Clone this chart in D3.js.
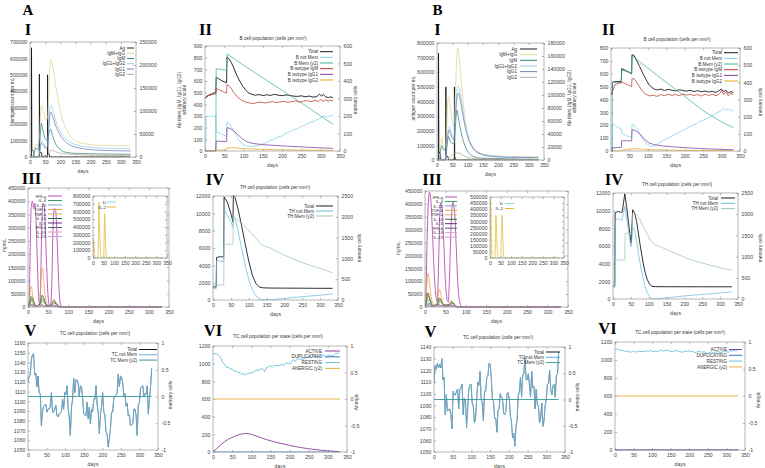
<!DOCTYPE html>
<html><head><meta charset="utf-8">
<script src="https://cdn.jsdelivr.net/npm/d3@7"></script>
<style>body{margin:0;background:#fff}svg{display:block}</style>
</head><body>
<script>
// ================= DATA =================
const DAY_TICKS = [0,50,100,150,200,250,300,350];
const T_700k = [0,100000,200000,300000,400000,500000,600000,700000];
const T_800k = [0,100000,200000,300000,400000,500000,600000,700000,800000];
const T_250k = [0,50000,100000,150000,200000,250000];
const T_180k = [0,20000,40000,60000,80000,100000,120000,140000,160000,180000];
const T_900 = [0,100,200,300,400,500,600,700,800,900];
const T_800 = [0,100,200,300,400,500,600,700,800];
const T_600 = [0,100,200,300,400,500,600];
const T_450k = [0,50000,100000,150000,200000,250000,300000,350000,400000,450000];
const T_500k = [0,50000,100000,150000,200000,250000,300000,350000,400000,450000,500000];
const T_12k = [0,2000,4000,6000,8000,10000,12000];
const T_2500 = [0,500,1000,1500,2000,2500];
const T_A5 = [1050,1060,1070,1080,1090,1100,1110,1120,1130,1140,1150,1160];
const T_B5 = [1050,1060,1070,1080,1090,1100,1110,1120,1130,1140];
const T_PM1 = [-1,-0.5,0,0.5,1];
const T_1200 = [0,200,400,600,800,1000,1200];

// ---- Panel I (antigen & antibodies) ----
const I_labels = ["Ag","IgM+IgG","IgM","IgG1+IgG2","IgG1","IgG2"];
const A1_Ag = [[0,0],[4.8,0],[5,665000],[6,45000],[12,35000],[13,0],[30.8,0],[31,505000],[32,30000],[38,25000],[39,0],[57.8,0],[58,500000],[59,25000],[64,15000],[65,0],[332,0]];
const A1_IgMIgG = [[0,0],[8,0],[12,8000],[16,20000],[20,28000],[25,25000],[31,40000],[35,95000],[38,113000],[42,105000],[48,90000],[54,80000],[58,85000],[62,140000],[66,200000],[69,212000],[73,205000],[80,175000],[90,135000],[100,100000],[115,68000],[130,48000],[150,36000],[180,29000],[220,26000],[270,25000],[332,24000]];
const A1_IgM = [[0,0],[8,0],[14,10000],[20,20000],[26,15000],[32,35000],[38,73000],[42,60000],[50,40000],[58,35000],[64,55000],[68,60000],[75,45000],[85,28000],[100,16000],[120,10000],[150,8000],[200,7000],[332,6000]];
const A1_IgG12 = [[0,0],[25,0],[30,5000],[34,25000],[38,35000],[44,30000],[52,22000],[58,25000],[62,70000],[66,108000],[69,113000],[74,105000],[82,85000],[95,62000],[110,45000],[130,33000],[160,25000],[200,21000],[260,19000],[332,18000]];
const A1_IgG1 = [[0,0],[25,0],[30,4000],[34,21000],[38,30000],[44,26000],[52,19000],[58,21000],[62,60000],[66,93000],[69,98000],[74,90000],[82,73000],[95,53000],[110,38000],[130,27000],[160,20000],[200,16000],[260,14000],[332,13000]];
const A1_IgG2 = [[0,0],[30,0],[38,4000],[58,3000],[69,15000],[90,10000],[130,6000],[200,4000],[332,3000]];

const B1_Ag = [[0,0],[4.8,0],[5,730000],[6,60000],[11,40000],[13,0],[28.8,0],[29,500000],[30,30000],[36,20000],[38,0],[56.8,0],[57,500000],[58,20000],[62,0],[332,0]];
const B1_IgMIgG = [[0,0],[7,0],[11,10000],[15,34000],[20,25000],[26,18000],[31,40000],[35,90000],[38,97000],[42,85000],[50,60000],[56,55000],[60,100000],[65,160000],[68,172000],[72,160000],[80,115000],[90,70000],[100,40000],[115,20000],[130,12000],[160,8000],[200,6000],[332,5000]];
const B1_IgM = [[0,0],[7,0],[12,15000],[16,22000],[22,15000],[30,20000],[35,30000],[38,36000],[44,28000],[56,25000],[60,50000],[65,77000],[70,65000],[80,40000],[95,18000],[110,8000],[140,3000],[332,1000]];
const B1_IgG12 = [[0,0],[25,0],[32,20000],[37,48000],[40,51000],[46,42000],[56,35000],[60,70000],[66,110000],[70,114000],[75,105000],[85,75000],[100,40000],[115,22000],[135,12000],[170,7000],[230,5000],[332,4000]];
const B1_IgG1 = [[0,0],[25,0],[32,18000],[37,43000],[40,46000],[46,38000],[56,31000],[60,63000],[66,99000],[70,103000],[75,95000],[85,68000],[100,36000],[115,20000],[135,11000],[170,6000],[230,4000],[332,3500]];
const B1_IgG2 = [[0,0],[35,0],[40,4000],[70,11000],[90,6000],[130,2000],[332,500]];

// ---- Panel II (B cells) ----
const II_labels = ["Total","B not Mem","B Mem (y2)","B isotype IgM","B isotype IgG1","B isotype IgG2"];
const A2_Total = [[0,450],[5,470],[10,480],[15,485],[20,495],[28,500],[29,630],[35,620],[45,600],[56,585],[57,805],[62,790],[68,760],[75,710],[82,650],[90,600],[98,555],[106,520],[114,495],[122,485],[130,478],[140,484],[150,475],[160,482],[170,476],[180,486],[190,478],[200,474],[210,481],[220,476],[230,470],[240,468],[250,473],[260,465],[270,471],[280,462],[290,467],[297,488],[302,470],[307,485],[312,465],[320,458],[325,464],[332,458]];
const A2_NotMem = [[0,0],[2,0],[3,295],[28,300],[29,165],[40,150],[56,125],[57,250],[65,230],[75,170],[85,110],[95,65],[105,45],[120,38],[135,45],[150,60],[160,75],[170,92],[180,100],[190,122],[200,130],[210,152],[220,165],[230,182],[240,190],[250,212],[260,222],[270,242],[280,250],[290,268],[300,282],[305,296],[310,302],[318,288],[325,306],[332,300]];
const A2_Mem = [[0,0],[28,0],[29,470],[56,462],[57,555],[100,490],[150,418],[200,346],[250,275],[300,200],[332,153]];
const A2_IgM = [[0,450],[5,465],[10,475],[15,480],[20,485],[28,490],[29,535],[40,520],[56,495],[57,570],[65,550],[75,500],[85,460],[95,435],[105,420],[115,412],[125,406],[135,415],[145,420],[155,411],[165,418],[175,423],[185,414],[195,421],[205,426],[215,417],[225,423],[235,429],[245,419],[255,427],[265,431],[275,423],[285,433],[295,425],[300,442],[306,426],[312,438],[320,428],[326,434],[332,430]];
const A2_IgG1 = [[0,0],[28,0],[29,85],[56,80],[57,200],[65,195],[75,170],[85,140],[95,110],[105,85],[115,72],[130,62],[150,55],[180,48],[210,42],[240,37],[270,32],[300,27],[332,22]];
const A2_IgG2 = [[0,0],[28,0],[29,8],[56,8],[57,25],[70,28],[100,20],[150,14],[200,10],[260,7],[332,5]];

const B2_Total = [[0,440],[3,445],[4,535],[15,540],[28,540],[29,640],[40,625],[56,600],[57,748],[63,740],[70,700],[78,655],[86,605],[94,560],[102,520],[110,495],[118,480],[126,475],[135,481],[145,470],[155,479],[165,472],[175,467],[185,475],[195,470],[205,465],[215,471],[225,462],[235,469],[245,460],[255,466],[265,458],[275,463],[285,455],[295,472],[300,481],[305,461],[312,471],[318,450],[325,461],[332,455]];
const B2_NotMem = [[0,0],[3,0],[4,210],[15,190],[28,170],[29,140],[40,120],[56,105],[57,210],[65,195],[75,150],[85,100],[95,60],[105,40],[112,35],[120,45],[135,70],[150,95],[160,108],[170,125],[180,138],[190,155],[200,166],[210,185],[220,196],[230,210],[240,228],[250,240],[265,260],[280,285],[290,300],[298,312],[305,332],[312,318],[318,327],[325,314],[332,320]];
const B2_Mem = [[0,0],[3,0],[4,400],[28,398],[29,470],[56,455],[57,555],[100,483],[150,400],[200,318],[250,235],[300,170],[332,135]];
const B2_IgM = [[0,440],[3,442],[4,460],[10,515],[20,525],[28,530],[29,535],[45,515],[56,500],[57,565],[65,555],[75,510],[85,465],[95,440],[105,428],[115,433],[125,424],[135,439],[145,429],[155,441],[165,431],[175,439],[185,429],[195,443],[205,434],[215,441],[225,431],[235,439],[245,427],[255,441],[265,431],[275,441],[285,429],[295,446],[300,470],[305,440],[312,456],[318,430],[325,446],[332,440]];
const B2_IgG1 = [[0,0],[3,0],[4,25],[28,28],[29,80],[56,78],[57,165],[65,160],[75,140],[85,110],[95,80],[105,60],[120,48],[140,40],[170,32],[200,26],[240,20],[280,15],[332,10]];
const B2_IgG2 = [[0,0],[28,0],[29,5],[57,18],[80,15],[120,9],[200,5],[332,3]];

// ---- Panel III (cytokines) ----
const III_labels = ["IFN-g","IL-4","IL-12","TGF-b","TNF-a","IL-10","IL-6","IFN-b","IL-18","IL-23"];
const A3_IFNg = [[0,0],[3,20000],[5,180000],[8,380000],[11,400000],[14,372000],[17,392000],[20,330000],[23,180000],[26,50000],[29,8000],[31,60000],[34,300000],[37,392000],[40,385000],[43,300000],[46,170000],[49,60000],[52,12000],[56,5000],[59,90000],[62,290000],[65,373000],[68,370000],[71,310000],[74,180000],[77,70000],[80,15000],[85,0],[332,0]];
const A3_IL4 = [[0,0],[5,10000],[9,30000],[13,20000],[20,3000],[32,15000],[37,30000],[42,15000],[50,2000],[61,8000],[66,15000],[72,5000],[82,0],[332,0]];
const A3_IL12 = [[0,0],[5,10000],[9,25000],[14,12000],[20,3000],[33,15000],[38,20000],[44,8000],[55,2000],[62,10000],[67,15000],[74,5000],[85,0],[332,0]];
const A3_TGFb = [[0,0],[3,20000],[6,70000],[8,78000],[11,50000],[15,20000],[20,5000],[28,5000],[31,60000],[34,140000],[36,148000],[39,100000],[43,40000],[48,10000],[56,5000],[60,20000],[64,30000],[68,20000],[75,5000],[85,0],[332,0]];
const A3_TNFa = [[0,0],[4,15000],[8,35000],[12,20000],[18,4000],[32,20000],[36,40000],[41,18000],[50,3000],[62,12000],[67,20000],[74,5000],[84,0],[332,0]];
const A3_IL10 = [[0,0],[4,15000],[8,40000],[12,30000],[17,10000],[25,2000],[31,20000],[35,45000],[39,35000],[45,10000],[55,2000],[60,15000],[65,25000],[70,12000],[80,2000],[90,0],[332,0]];
const A3_IL6 = [[0,0],[6,5000],[10,12000],[16,4000],[35,8000],[40,4000],[65,5000],[75,0],[332,0]];
const A3_IFNb = [[0,0],[8,6000],[14,2000],[36,5000],[44,1000],[66,4000],[76,0],[332,0]];
const A3_IL18 = [[0,0],[7,8000],[13,3000],[36,7000],[44,2000],[66,6000],[76,0],[332,0]];
const A3_IL23 = [[0,0],[9,5000],[15,2000],[38,4000],[46,1000],[68,3000],[78,0],[332,0]];
const INSET_labels = ["D","IL-2"];
const A3_D = [[0,0],[332,0]];
const A3_IL2 = [[0,0],[1,180000],[2,250000],[4,180000],[7,60000],[11,0],[23,0],[26,300000],[28,720000],[30,550000],[33,200000],[37,20000],[40,0],[50,0],[53,300000],[55,570000],[57,450000],[60,150000],[64,10000],[67,0],[332,0]];

const B3_IFNg = [[0,0],[2,30000],[5,250000],[8,400000],[11,445000],[14,420000],[18,300000],[22,150000],[26,50000],[30,20000],[33,150000],[36,350000],[39,403000],[42,380000],[46,250000],[50,100000],[54,30000],[57,20000],[60,120000],[64,320000],[68,407000],[72,380000],[76,250000],[80,100000],[85,20000],[90,0],[332,0]];
const B3_IL4 = [[0,0],[4,20000],[8,45000],[12,30000],[18,5000],[33,15000],[38,30000],[44,10000],[55,2000],[63,10000],[68,18000],[75,4000],[85,0],[332,0]];
const B3_IL12 = [[0,0],[5,12000],[9,28000],[14,12000],[20,3000],[34,12000],[39,20000],[45,6000],[56,2000],[64,8000],[69,14000],[76,4000],[86,0],[332,0]];
const B3_TGFb = [[0,0],[3,50000],[6,120000],[8,130000],[11,90000],[15,40000],[20,10000],[28,5000],[32,40000],[35,70000],[38,55000],[43,20000],[50,5000],[58,10000],[63,25000],[68,15000],[75,3000],[85,0],[332,0]];
const B3_TNFa = [[0,0],[4,25000],[8,55000],[12,35000],[18,6000],[33,20000],[37,35000],[42,15000],[52,2000],[63,12000],[68,20000],[75,4000],[85,0],[332,0]];
const B3_IL10 = [[0,0],[3,20000],[6,55000],[9,45000],[14,20000],[20,5000],[30,10000],[35,35000],[39,25000],[45,8000],[60,10000],[65,20000],[70,10000],[80,0],[332,0]];
const B3_IL6 = [[0,0],[6,6000],[10,14000],[16,4000],[36,8000],[42,3000],[66,6000],[76,0],[332,0]];
const B3_IFNb = [[0,0],[8,7000],[14,2000],[37,5000],[45,1000],[67,4000],[77,0],[332,0]];
const B3_IL18 = [[0,0],[7,9000],[13,3000],[36,6000],[44,2000],[67,5000],[77,0],[332,0]];
const B3_IL23 = [[0,0],[9,5000],[15,2000],[38,4000],[46,1000],[69,3000],[79,0],[332,0]];
const B3_D = [[0,0],[332,0]];
const B3_IL2 = [[0,0],[1,350000],[2,500000],[4,380000],[7,120000],[11,10000],[14,0],[23,0],[26,200000],[28,350000],[30,300000],[33,120000],[37,10000],[40,0],[51,0],[54,200000],[57,350000],[59,280000],[62,100000],[66,5000],[69,0],[332,0]];

// ---- Panel IV (TH cells) ----
const IV_labels = ["Total","TH not Mem","TH Mem (y2)"];
const A4_Total = [[0,1500],[9,1500],[10,4900],[20,5000],[30,4950],[31,11900],[40,11300],[50,10000],[56,9000],[57,12100],[62,11800],[70,10500],[80,8600],[90,6500],[100,4500],[110,2900],[120,1900],[130,1500],[140,1400],[160,1380],[200,1370],[250,1360],[300,1350],[335,1350]];
const A4_NotMem = [[0,1300],[9,1300],[10,4600],[20,4500],[30,4400],[31,10500],[40,9800],[50,9000],[56,8400],[57,9800],[62,9400],[70,8000],[80,6000],[90,4000],[100,2400],[110,1200],[120,500],[130,150],[140,30],[150,10],[170,60],[200,180],[250,380],[300,560],[335,700]];
const A4_Mem = [[0,360],[30,360],[31,1340],[56,1340],[57,2000],[70,1920],[85,1820],[100,1680],[115,1530],[130,1380],[137,1320],[160,1250],[190,1120],[220,1000],[250,900],[280,810],[310,730],[335,650]];
const B4_Total = [[0,1500],[5,1500],[6,9800],[15,9900],[25,9800],[26,9900],[33,11900],[38,10500],[44,8500],[50,6400],[51,6300],[55,10100],[60,9800],[66,8800],[72,7200],[78,5600],[84,4200],[90,3000],[96,2200],[102,1700],[108,1450],[115,1400],[150,1390],[200,1385],[250,1385],[300,1380],[333,1380]];
const B4_NotMem = [[0,1300],[5,1300],[6,9000],[15,9100],[25,8900],[26,9000],[33,10500],[38,9200],[44,7500],[50,6000],[51,5900],[55,8200],[60,7800],[66,6600],[72,5000],[78,3600],[84,2400],[90,1400],[96,700],[102,300],[108,80],[115,10],[130,40],[160,180],[200,350],[250,520],[300,680],[333,800]];
const B4_Mem = [[0,330],[6,330],[7,920],[33,920],[34,1550],[54,1550],[55,2020],[65,2000],[75,1880],[85,1700],[95,1540],[105,1380],[115,1290],[130,1240],[160,1130],[190,1020],[220,920],[250,850],[280,780],[310,720],[333,680]];

// ---- Panel V (TC cells), one value every 3 days ----
const V_labels = ["Total","TC not Mem","TC Mem (y2)"];
const V_STEP = 3;
const A5_Total = [1120,1126,1127,1143,1148,1149,1127,1129,1115,1126,1109,1108,1075,1089,1095,1096,1097,1089,1092,1092,1095,1109,1089,1089,1092,1096,1085,1084,1087,1088,1089,1102,1092,1109,1107,1116,1092,1084,1065,1094,1102,1124,1109,1122,1122,1119,1105,1116,1115,1104,1087,1086,1085,1099,1082,1094,1077,1092,1089,1102,1102,1116,1097,1089,1067,1086,1095,1109,1089,1086,1069,1066,1053,1062,1072,1089,1089,1104,1105,1106,1109,1128,1115,1126,1125,1119,1105,1108,1095,1098,1085,1086,1075,1076,1077,1092,1092,1086,1065,1096,1099,1114,1115,1116,1105,1108,1107,1116,1087,1102,1115,1134];
const A5_Mem = [0,0];
const B5_Total = [1109,1124,1121,1126,1122,1125,1122,1130,1112,1114,1082,1099,1085,1086,1087,1082,1070,1102,1099,1099,1102,1104,1087,1104,1105,1108,1082,1096,1095,1071,1087,1104,1107,1108,1092,1089,1075,1079,1095,1110,1107,1119,1095,1092,1077,1102,1102,1114,1115,1126,1125,1114,1095,1094,1079,1079,1067,1086,1087,1100,1097,1096,1083,1082,1085,1100,1101,1096,1081,1076,1062,1066,1055,1072,1077,1098,1102,1114,1097,1116,1117,1132,1112,1112,1117,1108,1097,1119,1105,1106,1087,1104,1091,1089,1075,1079,1092,1072,1077,1090,1095,1108,1109,1120,1103,1099,1107,1108,1097,1116,1117,1136];
const B5_Mem = [0,0];

// ---- Panel VI (TC states), RESTING every 5 days, ACTIVE every 10 days ----
const VI_labels = ["ACTIVE","DUPLICATING","RESTING","ANERGIC (y2)"];
const A6_Resting = [1120,1112,1108,1094,1066,1014,996,958,961,938,941,914,916,899,901,879,886,872,891,889,896,899,921,924,926,939,941,909,956,964,981,959,981,974,981,979,996,974,1006,1004,1001,1014,1046,1024,1056,1054,1051,1049,1066,1064,1086,1059,1081,1084,1076,1074,1091,1094,1096,1074,1091,1089,1086,1094,1116,1114,1130];
const A6_Active = [0,40,80,115,145,165,185,200,208,210,200,185,170,155,140,128,115,105,95,85,75,66,58,50,43,37,31,26,21,17,13,10,7,5];
const B6_Resting = [1120,1125,1115,1110,1105,1100,1095,1100,1085,1090,1095,1088,1095,1100,1092,1098,1090,1102,1095,1105,1098,1092,1100,1095,1102,1108,1098,1105,1110,1100,1095,1090,1098,1105,1100,1095,1085,1092,1100,1095,1102,1090,1098,1080,1088,1100,1092,1085,1095,1080,1070,1085,1090,1075,1085,1095,1090,1080,1092,1100,1095,1085,1105,1095,1110,1100,1115];
const B6_Active = [0,0];
const VI_Dup = [0,0];
const VI_Anergic = [0,0];

// ================= DRAWING =================
const FONT = "'Liberation Sans', Arial, sans-serif";
const svg = d3.select("body").append("svg").attr("width",765).attr("height",468)
  .style("font-family",FONT);
svg.append("rect").attr("width",765).attr("height",468).attr("fill","#fff");
const defs = svg.append("defs");
let clipN = 0;

const seq = (vals, step) => vals.map((v,i)=>[i*step, v]);

function panel(c){
  const x = d3.scaleLinear().domain([0,350]).range([c.L,c.R]);
  const y = d3.scaleLinear().domain(c.yDom).range([c.B,c.T]);
  const y2 = c.y2Dom ? d3.scaleLinear().domain(c.y2Dom).range([c.B,c.T]) : null;
  const g = svg.append("g");
  const id = "clp"+(clipN++);
  defs.append("clipPath").attr("id",id).append("rect")
    .attr("x",c.L).attr("y",c.T-0.5).attr("width",c.R-c.L).attr("height",c.B-c.T+1);
  const fs = c.fs || 5.2;
  const style = sel => {
    sel.select(".domain").remove();
    sel.selectAll("text").attr("font-size",fs).attr("fill","#444").attr("font-family",FONT);
    sel.selectAll("line").attr("stroke","#777").attr("stroke-width",0.5);
  };
  const fmt = d => String(d);
  const tl = -2.2;
  g.append("g").attr("transform",`translate(0,${c.B})`)
    .call(d3.axisBottom(x).tickValues(DAY_TICKS).tickSize(tl).tickPadding(3.2).tickFormat(fmt)).call(style);
  g.append("g").attr("transform",`translate(0,${c.T})`)
    .call(d3.axisTop(x).tickValues(DAY_TICKS).tickSize(tl).tickFormat("")).call(style);
  g.append("g").attr("transform",`translate(${c.L},0)`)
    .call(d3.axisLeft(y).tickValues(c.yTicks).tickSize(tl).tickPadding(2.6).tickFormat(fmt)).call(style);
  if (y2) {
    g.append("g").attr("transform",`translate(${c.R},0)`)
      .call(d3.axisRight(y2).tickValues(c.y2Ticks).tickSize(tl).tickPadding(3.5).tickFormat(fmt)).call(style);
  } else {
    g.append("g").attr("transform",`translate(${c.R},0)`)
      .call(d3.axisRight(y).tickValues(c.yTicks).tickSize(tl).tickFormat("")).call(style);
  }
  const sg = g.append("g").attr("clip-path",`url(#${id})`);
  c.series.forEach(s => {
    const sc = s.y2 ? y2 : y;
    const line = d3.line().x(d=>x(d[0])).y(d=>sc(d[1]))
      .curve(s.smooth ? d3.curveMonotoneX : d3.curveLinear);
    sg.append("path").attr("d",line(s.data)).attr("fill","none")
      .attr("stroke",s.color).attr("stroke-width",s.w||0.75).attr("stroke-linejoin","round");
  });
  g.append("rect").attr("x",c.L).attr("y",c.T).attr("width",c.R-c.L).attr("height",c.B-c.T)
    .attr("fill","none").attr("stroke","#888").attr("stroke-width",0.6);
  if (!c.noDays) g.append("text").attr("x",(c.L+c.R)/2).attr("y",c.B+15.5).attr("text-anchor","middle")
    .attr("font-size",fs).attr("fill","#444").text("days");
  if (c.legend) {
    const lg = c.legend;
    c.series.forEach((s,i) => {
      const yy = lg.y + i*lg.dy;
      g.append("text").attr("x",lg.tx).attr("y",yy+1.6).attr("text-anchor","end")
        .attr("font-size",lg.fs||4.6).attr("fill","#333").text(s.label);
      g.append("line").attr("x1",lg.x0).attr("x2",lg.x1).attr("y1",yy).attr("y2",yy)
        .attr("stroke",s.color).attr("stroke-width",1);
    });
  }
  if (c.title) g.append("text").attr("x",c.title[1]).attr("y",c.title[2]).attr("text-anchor","middle")
    .attr("font-size",4.7).attr("fill","#333").text(c.title[0]);
  (c.texts||[]).forEach(t => {
    g.append("text").attr("transform",`translate(${t[1]},${t[2]}) rotate(-90)`)
      .attr("text-anchor","middle").attr("font-size",4.8).attr("fill","#444").text(t[0]);
  });
}

const C = {
  black:"#1a1a1a", khaki:"#e3d38f", tealD:"#2f8585", ltblue:"#93d0ea", slate:"#6f7fb6", graybr:"#b7a98c",
  notMem:"#86cfe8", mem:"#41b39c", igm:"#c0392b", igg1:"#7b3fa0", igg2:"#e8a820",
  thNot:"#6dbbdc", thMem:"#9dc4b6", tcNot:"#62acd6", tcMem:"#3a9a9a",
  active:"#8e3a9e", dup:"#3a78b8", rest:"#6cc0dc", anerg:"#e8b040"
};
const CY = ["#b64cb6","#3a9a5a","#7fa0d0","#f0a040","#d8b060","#2a6a3a","#603070","#505a70","#e0a0c0","#c8a0d8"];

// ---------- A ----------
panel({L:30,R:136,T:42,B:157,yDom:[0,700000],yTicks:T_700k,y2Dom:[0,250000],y2Ticks:T_250k,
  series:[
    {label:I_labels[0],data:A1_Ag,color:C.black,w:0.9},
    {label:I_labels[1],data:A1_IgMIgG,color:C.khaki,smooth:1,y2:1},
    {label:I_labels[2],data:A1_IgM,color:C.tealD,smooth:1,y2:1},
    {label:I_labels[3],data:A1_IgG12,color:C.ltblue,smooth:1,y2:1},
    {label:I_labels[4],data:A1_IgG1,color:C.slate,smooth:1,y2:1},
    {label:I_labels[5],data:A1_IgG2,color:C.graybr,smooth:1,y2:1}
  ],
  legend:{tx:125,x0:127,x1:134,y:48,dy:5.26},
  texts:[["antigen count per mL",14,100],["Ab titers (IgM, IgG1, IgG2)",181,100],["arbitrary scale",186,100]]});

panel({L:205,R:340,T:46,B:151,yDom:[0,900],yTicks:T_900,y2Dom:[0,600],y2Ticks:T_600,
  series:[
    {label:II_labels[0],data:A2_Total,color:C.black,w:0.9},
    {label:II_labels[1],data:A2_NotMem,color:C.notMem},
    {label:II_labels[2],data:A2_Mem,color:C.mem,y2:1},
    {label:II_labels[3],data:A2_IgM,color:C.igm},
    {label:II_labels[4],data:A2_IgG1,color:C.igg1},
    {label:II_labels[5],data:A2_IgG2,color:C.igg2}
  ],
  legend:{tx:318,x0:320,x1:333,y:51.7,dy:5.66},
  title:["B cell population (cells per mm\u00b3)",273,39.5],
  texts:[["memory cells",357,100]]});

panel({L:28,R:169,T:188,B:307,yDom:[0,450000],yTicks:T_450k,
  series:III_labels.map((lab,i)=>({label:lab,
    data:[A3_IFNg,A3_IL4,A3_IL12,A3_TGFb,A3_TNFa,A3_IL10,A3_IL6,A3_IFNb,A3_IL18,A3_IL23][i],
    color:CY[i],smooth:1,w:i===0?0.9:0.75})),
  legend:{tx:46,x0:48,x1:62,y:196,dy:4.5,fs:4.2},
  texts:[["ng/mL",6,245]]});
panel({L:93,R:167,T:196,B:258,yDom:[0,800000],yTicks:T_800k,noDays:1,
  series:[
    {label:INSET_labels[0],data:A3_D,color:"#8fd6e0"},
    {label:INSET_labels[1],data:A3_IL2,color:"#e0b830",smooth:1}
  ],
  legend:{tx:106,x0:107,x1:116,y:202,dy:5,fs:4.4}});

panel({L:213,R:338,T:196,B:300,yDom:[0,12000],yTicks:T_12k,y2Dom:[0,2500],y2Ticks:T_2500,
  series:[
    {label:IV_labels[0],data:A4_Total,color:C.black,w:0.9},
    {label:IV_labels[1],data:A4_NotMem,color:C.thNot},
    {label:IV_labels[2],data:A4_Mem,color:C.thMem,y2:1}
  ],
  legend:{tx:314,x0:316,x1:333,y:206,dy:5},
  title:["TH cell population (cells per mm\u00b3)",275,188.5],
  texts:[["memory cells",361,248]]});

panel({L:28,R:158,T:343,B:450,yDom:[1050,1160],yTicks:T_A5,y2Dom:[-1,1],y2Ticks:T_PM1,
  series:[
    {label:V_labels[0],data:seq(A5_Total,V_STEP),color:C.black,w:0.5},
    {label:V_labels[1],data:seq(A5_Total,V_STEP),color:C.tcNot,w:0.85},
    {label:V_labels[2],data:seq(A5_Mem,333),color:C.tcMem,y2:1,w:0.9}
  ],
  legend:{tx:137,x0:139,x1:157,y:349.5,dy:5.3},
  title:["TC cell population (cells per mm\u00b3)",95,334.5],
  texts:[["memory cells",172,395]]});

panel({L:213,R:347,T:346,B:452,yDom:[0,1200],yTicks:T_1200,y2Dom:[-1,1],y2Ticks:T_PM1,
  series:[
    {label:VI_labels[0],data:seq(A6_Active,10),color:C.active,w:0.9},
    {label:VI_labels[1],data:seq(VI_Dup,332),color:C.dup},
    {label:VI_labels[2],data:seq(A6_Resting,5),color:C.rest,w:0.9},
    {label:VI_labels[3],data:seq(VI_Anergic,332),color:C.anerg,y2:1,w:0.9}
  ],
  legend:{tx:322,x0:325,x1:340,y:351,dy:5.8},
  title:["TC cell population per state (cells per mm\u00b3)",278,337.5],
  texts:[["Anergic",358,402]]});

// ---------- B ----------
panel({L:437,R:544,T:43,B:160,yDom:[0,800000],yTicks:T_800k,y2Dom:[0,180000],y2Ticks:T_180k,
  series:[
    {label:I_labels[0],data:B1_Ag,color:C.black,w:0.9},
    {label:I_labels[1],data:B1_IgMIgG,color:C.khaki,smooth:1,y2:1},
    {label:I_labels[2],data:B1_IgM,color:C.tealD,smooth:1,y2:1},
    {label:I_labels[3],data:B1_IgG12,color:C.ltblue,smooth:1,y2:1},
    {label:I_labels[4],data:B1_IgG1,color:C.slate,smooth:1,y2:1},
    {label:I_labels[5],data:B1_IgG2,color:C.graybr,smooth:1,y2:1}
  ],
  legend:{tx:517,x0:520,x1:537,y:49,dy:5.66},
  texts:[["antigen count per mL",415,98],["Ab titers (IgM, IgG1, IgG2)",571,98],["arbitrary scale",576,98]]});

panel({L:611,R:740,T:48,B:151,yDom:[0,800],yTicks:T_800,y2Dom:[0,600],y2Ticks:T_600,
  series:[
    {label:II_labels[0],data:B2_Total,color:C.black,w:0.9},
    {label:II_labels[1],data:B2_NotMem,color:C.notMem},
    {label:II_labels[2],data:B2_Mem,color:C.mem,y2:1},
    {label:II_labels[3],data:B2_IgM,color:C.igm},
    {label:II_labels[4],data:B2_IgG1,color:C.igg1},
    {label:II_labels[5],data:B2_IgG2,color:C.igg2}
  ],
  legend:{tx:722,x0:724,x1:738,y:52.7,dy:5.66},
  title:["B cell population (cells per mm\u00b3)",677,40.5],
  texts:[["memory cells",762,102]]});

panel({L:425,R:568,T:191,B:307,yDom:[0,450000],yTicks:T_450k,
  series:III_labels.map((lab,i)=>({label:lab,
    data:[B3_IFNg,B3_IL4,B3_IL12,B3_TGFb,B3_TNFa,B3_IL10,B3_IL6,B3_IFNb,B3_IL18,B3_IL23][i],
    color:CY[i],smooth:1,w:i===0?0.9:0.75})),
  legend:{tx:443,x0:445,x1:457,y:197,dy:4.45,fs:4.2},
  texts:[["ng/mL",400,248]]});
panel({L:490,R:564,T:197,B:258,yDom:[0,500000],yTicks:T_500k,noDays:1,
  series:[
    {label:INSET_labels[0],data:B3_D,color:"#8fd6e0"},
    {label:INSET_labels[1],data:B3_IL2,color:"#e0b830",smooth:1}
  ],
  legend:{tx:503,x0:505,x1:514,y:203.5,dy:5,fs:4.4}});

panel({L:613,R:738,T:193,B:299,yDom:[0,12000],yTicks:T_12k,y2Dom:[0,2500],y2Ticks:T_2500,
  series:[
    {label:IV_labels[0],data:B4_Total,color:C.black,w:0.9},
    {label:IV_labels[1],data:B4_NotMem,color:C.thNot},
    {label:IV_labels[2],data:B4_Mem,color:C.thMem,y2:1}
  ],
  legend:{tx:718,x0:721,x1:735,y:198,dy:5.3},
  title:["TH cell population (cells per mm\u00b3)",677,185.5],
  texts:[["memory cells",762,248]]});

panel({L:434,R:565,T:347,B:452,yDom:[1050,1140],yTicks:T_B5,y2Dom:[-1,1],y2Ticks:T_PM1,
  series:[
    {label:V_labels[0],data:seq(B5_Total,V_STEP),color:C.black,w:0.5},
    {label:V_labels[1],data:seq(B5_Total,V_STEP),color:C.tcNot,w:0.85},
    {label:V_labels[2],data:seq(B5_Mem,333),color:C.tcMem,y2:1,w:0.9}
  ],
  legend:{tx:544,x0:546,x1:560,y:352,dy:5.3},
  title:["TC cell population (cells per mm\u00b3)",498,338.5],
  texts:[["memory cells",579,397]]});

panel({L:615,R:745,T:342,B:450,yDom:[0,1200],yTicks:T_1200,y2Dom:[-1,1],y2Ticks:T_PM1,
  series:[
    {label:VI_labels[0],data:seq(B6_Active,332),color:C.active,w:0.9},
    {label:VI_labels[1],data:seq(VI_Dup,332),color:C.dup},
    {label:VI_labels[2],data:seq(B6_Resting,5),color:C.rest,w:0.9},
    {label:VI_labels[3],data:seq(VI_Anergic,332),color:C.anerg,y2:1,w:0.9}
  ],
  legend:{tx:727,x0:729,x1:742,y:349.5,dy:5.8},
  title:["TC cell population per state (cells per mm\u00b3)",680,333.5],
  texts:[["Anergic",760,400]]});

// ---------- panel letters ----------
const LETTERS = [["A",28,15],["I",28,35],["II",205.5,35],["III",31.5,183.5],["IV",215,185],["V",30.5,336],["VI",213,335.5],
  ["B",437.5,15],["I",437.5,35],["II",608.5,35],["III",432,185],["IV",614,185],["V",430.5,337],["VI",607.5,334]];
LETTERS.forEach(l => svg.append("text").attr("x",l[1]).attr("y",l[2]).attr("text-anchor","middle")
  .attr("font-family","'Liberation Serif','Times New Roman',serif").attr("font-weight","bold")
  .attr("font-size",l[0].length===1 && (l[0]==="A"||l[0]==="B") ? 15 : 16.5).attr("fill","#000").text(l[0]));
</script>
</body></html>
